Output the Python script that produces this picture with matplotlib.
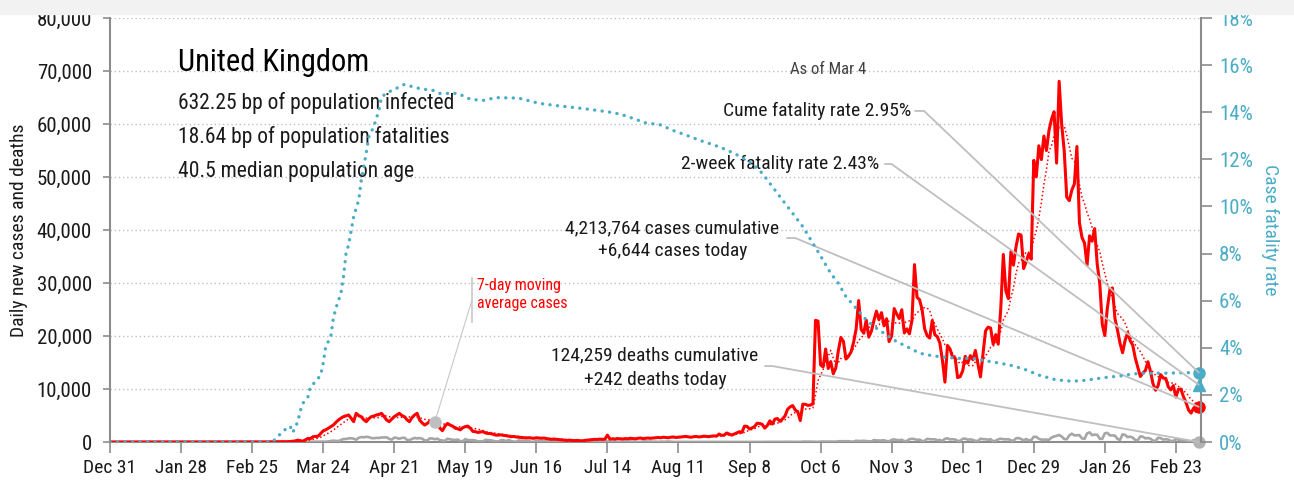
import matplotlib
matplotlib.use("Agg")
import matplotlib.pyplot as plt
from matplotlib.patches import Rectangle
import pandas as pd

plt.rcParams['font.family'] = ['Roboto Condensed', 'DejaVu Sans']
plt.rcParams['font.stretch'] = 'condensed'

# daily new cases, Dec 31 2019 .. Mar 4 2021
cases = (
    [0]
    + [0] * 30 + [2]                                                   # Jan 2020
    + [0, 0, 0, 0, 0, 1, 0, 0, 0, 4, 0, 0, 0, 1, 0, 0, 0, 0, 0, 0,
       0, 0, 0, 4, 0, 0, 2, 5, 3]                                      # Feb
    + [12, 4, 11, 34, 30, 48, 43, 67, 48, 54, 87, 134, 208, 342, 251, 152, 407, 676, 643, 1000,
       1035, 1100, 1600, 2100, 2300, 2580, 2900, 3200, 3700, 4150, 4500]  # Mar
    + [4780, 4950, 5100, 4500, 3840, 5410, 5000, 4780, 4200, 3840, 4400, 4780, 4900, 5100, 5200,
       5410, 4800, 4150, 3840, 4300, 4780, 5100, 5410, 5000, 4780, 4200, 3840, 4600, 5100, 5410]  # Apr
    + [4150, 3600, 3200, 3500, 3900, 4100, 4150, 3600, 2600, 2140, 3000, 3500, 3200, 3000, 2600,
       2500, 2300, 2700, 2900, 3000, 2600, 2000, 1950, 1800, 1900, 1950, 1700, 1600, 1600, 1450, 1300]  # May
    + [1300, 1350, 1250, 1200, 1100, 1000, 1050, 950, 900, 850, 800, 760, 800, 750, 700,
       800, 750, 700, 750, 650, 550, 500, 550, 500, 450, 400, 350, 300, 350, 300]  # Jun
    + [250, 300, 250, 200, 300, 350, 400, 450, 500, 480, 550, 500, 520, 1300, 550, 600,
       550, 650, 600, 550, 650, 600, 700, 650, 600, 700, 750, 650, 700, 750, 700]  # Jul
    + [750, 800, 850, 800, 900, 850, 800, 900, 950, 850, 900, 950, 1000, 1050, 950, 900,
       1000, 1050, 950, 1000, 1100, 1050, 1000, 1100, 1150, 1100, 1500, 1250, 1300, 1700, 1500]  # Aug
    + [1295, 1508, 1735, 1940, 1813, 2988, 2948, 2460, 2659, 2919, 3539, 3497, 3330, 2621, 3105,
       3991, 3395, 4322, 4422, 3899, 4368, 4926, 6178, 6634, 6874, 6042, 5693, 4044, 7143, 7108]  # Sep
    + [6914, 6968, 7200, 22961, 22800, 14542, 14162, 17540, 13864, 15166, 12872, 13972, 17234, 19724,
       18980, 15650, 16171, 16982, 18804, 21331, 26688, 21242, 20530, 23012, 19790, 20890, 22885,
       24701, 23065, 24405, 21915]                                     # Oct
    + [23254, 18950, 20018, 25177, 24141, 23287, 24957, 20572, 21350, 20412, 22950, 33470, 27301,
       26860, 24962, 21363, 20051, 19609, 22915, 20252, 19875, 18662, 15450, 11299, 18213, 17555,
       16022, 15871, 12155, 12330]                                     # Nov
    + [13430, 16170, 14879, 16298, 15539, 17272, 14718, 12282, 16578, 20964, 21672, 21502, 18447,
       20263, 18450, 25161, 35383, 28507, 27052, 35928, 33364, 36804, 39237, 39036, 32725, 34000,
       35500, 34500, 53135, 50023, 55892]                              # Dec
    + [53285, 57725, 54990, 58784, 60916, 62322, 52618, 68053, 59937, 54940, 46169, 45533, 47525,
       48682, 55761, 41346, 38598, 37535, 33355, 38905, 37892, 40261, 33552, 30004, 22195, 20089,
       25308, 28680, 29079, 23275, 21088]                              # Jan 2021
    + [18607, 16840, 19202, 20634, 19114, 18262, 15845, 14104, 12364, 13013, 13494, 15144, 13308,
       10972, 9765, 10625, 12718, 12057, 12027, 10406, 9834, 10641, 8489, 9938, 9985, 8523, 7434, 6035]  # Feb
    + [5455, 6391, 5766, 6644]                                         # Mar
)

deaths = (
    [0] * 61                                                           # to Feb 29 2020
    + [0, 0, 0, 0, 1, 1, 0, 1, 1, 0, 2, 1, 1, 10, 14, 20, 16, 33, 40, 33, 56, 48, 54, 87, 41,
       115, 181, 260, 209, 180, 381]
    + [563, 569, 684, 708, 621, 439, 786, 938, 881, 980, 917, 737, 717, 778, 761, 861, 847, 888,
       596, 449, 828, 763, 616, 768, 813, 413, 360, 586, 765, 674]
    + [739, 621, 315, 288, 693, 649, 539, 626, 346, 268, 210, 627, 494, 428, 384, 468, 170, 160,
       545, 363, 338, 351, 282, 118, 121, 134, 412, 377, 324, 215, 113]
    + [111, 324, 359, 176, 357, 204, 77, 55, 286, 245, 202, 181, 181, 36, 38, 233, 184, 135, 173,
       128, 43, 15, 280, 154, 149, 186, 100, 36, 25, 155]
    + [176, 137, 89, 67, 22, 16, 155, 126, 85, 48, 148, 21, 11, 138, 85, 66, 114, 40, 21, 11,
       110, 79, 123, 40, 64, 25, 9, 110, 119, 79, 101]
    + [38, 74, 8, 65, 65, 49, 98, 55, 8, 3, 20, 18, 20, 6, 11, 3, 3, 12, 16, 6, 2, 18, 3, 3, 16,
       16, 12, 9, 6, 1, 2]
    + [3, 3, 10, 12, 6, 2, 3, 2, 8, 14, 6, 9, 5, 9, 27, 20, 21, 27, 27, 18, 11, 37, 37, 40, 34,
       17, 17, 13, 71, 71]
    + [59, 66, 49, 33, 19, 76, 70, 77, 87, 81, 65, 50, 143, 137, 138, 136, 150, 67, 80, 241, 191,
       189, 224, 174, 151, 102, 367, 310, 280, 274, 326]
    + [162, 136, 397, 492, 378, 355, 413, 156, 194, 532, 595, 563, 376, 462, 168, 213, 598, 529,
       501, 511, 341, 398, 206, 608, 696, 498, 521, 479, 215, 205]
    + [603, 648, 414, 504, 397, 231, 189, 616, 533, 516, 424, 519, 144, 232, 506, 612, 532, 489,
       534, 326, 215, 691, 744, 570, 300, 570, 316, 357, 981, 964, 613]
    + [445, 445, 454, 407, 830, 1041, 1162, 1325, 1035, 563, 529, 1243, 1564, 1248, 1280, 1295,
       671, 599, 1610, 1820, 1290, 1401, 1348, 610, 592, 1631, 1725, 1239, 1245, 1200, 587]
    + [406, 1449, 1322, 915, 1014, 828, 373, 333, 1052, 1001, 678, 758, 621, 258, 230, 799, 738,
       454, 533, 445, 215, 178, 548, 442, 323, 345, 290, 144]
    + [104, 343, 315, 242]
)

# cumulative case fatality rate (%)
cfr_dates = ['2019-12-31', '2020-03-04', '2020-03-06', '2020-03-08', '2020-03-10', '2020-03-11',
             '2020-03-12', '2020-03-14', '2020-03-15', '2020-03-16', '2020-03-18', '2020-03-19',
             '2020-03-21', '2020-03-23', '2020-03-24', '2020-03-25', '2020-03-27', '2020-03-28',
             '2020-03-29', '2020-03-31', '2020-04-01', '2020-04-02', '2020-04-03', '2020-04-05',
             '2020-04-07', '2020-04-08', '2020-04-10', '2020-04-11', '2020-04-13', '2020-04-15',
             '2020-04-16', '2020-04-19', '2020-04-21', '2020-04-25', '2020-04-29', '2020-05-02',
             '2020-05-06', '2020-05-09', '2020-05-16', '2020-05-21', '2020-05-26', '2020-05-31',
             '2020-06-09', '2020-06-13', '2020-06-17', '2020-06-23', '2020-06-30', '2020-07-07',
             '2020-07-14', '2020-07-19', '2020-07-24', '2020-07-29', '2020-08-04', '2020-08-09',
             '2020-08-14', '2020-08-19', '2020-08-25', '2020-08-30', '2020-09-04', '2020-09-09',
             '2020-09-13', '2020-09-17', '2020-09-21', '2020-09-25', '2020-09-29', '2020-10-03',
             '2020-10-06', '2020-10-10', '2020-10-13', '2020-10-16', '2020-10-20', '2020-10-24',
             '2020-10-28', '2020-11-01', '2020-11-05', '2020-11-09', '2020-11-14', '2020-11-19',
             '2020-11-25', '2020-11-30', '2020-12-05', '2020-12-10', '2020-12-16', '2020-12-21',
             '2020-12-26', '2020-12-31', '2021-01-06', '2021-01-11', '2021-01-16', '2021-01-21',
             '2021-01-27', '2021-02-01', '2021-02-06', '2021-02-11', '2021-02-17', '2021-02-22',
             '2021-02-27', '2021-03-04']
cfr_values = [0, 0, 0.22, 0.44, 0.61, 0.67,
              0.40, 0.86, 1.33, 1.64, 1.92, 2.35,
              2.56, 2.84, 3.34, 4.05, 4.47, 5.25,
              5.68, 6.31, 7.02, 8.0, 8.36, 9.56,
              10.27, 11.1, 12.3, 12.96, 13.4, 14.1,
              14.66, 14.87, 14.97, 15.18, 15.06, 14.98,
              14.94, 14.8, 14.8, 14.55, 14.5, 14.62,
              14.6, 14.49, 14.38, 14.29, 14.21, 14.12,
              14.02, 13.92, 13.74, 13.55, 13.46, 13.22,
              13.03, 12.82, 12.61, 12.4, 12.14, 11.83,
              11.41, 10.84, 10.27, 9.71, 9.14, 8.43,
              7.9, 7.16, 6.74, 6.17, 5.68, 5.18,
              4.83, 4.54, 4.26, 4.05, 3.77, 3.66,
              3.59, 3.55, 3.55, 3.45, 3.34, 3.23,
              3.06, 2.84, 2.66, 2.59, 2.59, 2.66,
              2.75, 2.80, 2.89, 2.92, 2.92, 2.93,
              2.94, 2.95]
two_week_rate = 2.43

tick_dates = pd.date_range('2019-12-31', periods=16, freq='28D')
summary_lines = ['632.25 bp of population infected',
                 '18.64 bp of population fatalities',
                 '40.5 median population age']

RED = '#ff0000'
TEAL = '#4bacc6'
GRAY = '#a6a6a6'
LEAD = '#bfbfbf'
AXC = '#8c8c8c'

assert len(cases) == len(deaths) == 430
assert len(cfr_dates) == len(cfr_values)
dates = pd.date_range('2019-12-31', periods=len(cases))
cases_s = pd.Series(cases, index=dates)
ma = cases_s.rolling(7, min_periods=1).mean()
cfr_idx = pd.to_datetime(cfr_dates)
last = dates[-1]

fig = plt.figure(figsize=(12.94, 4.82), dpi=100)
fig.patches.append(Rectangle((0, 1 - 14 / 482), 1, 14 / 482, transform=fig.transFigure,
                             color='#f2f2f2', zorder=0))
ax = fig.add_axes([110 / 1294, 40 / 482, 1091 / 1294, 424 / 482])
ax2 = ax.twinx()

ax.plot(dates, deaths, color=GRAY, lw=1.9, zorder=3)
ax.plot(dates, cases, color=RED, lw=2.2, zorder=4)
ax.plot(dates, ma, color=RED, lw=1.1, ls=(0, (1, 1.6)), zorder=4)
ax2.plot(cfr_idx, cfr_values, color=TEAL, lw=2.4, dashes=(0.05, 2.2),
         dash_capstyle='round', zorder=3)

# end markers
ax.plot([last], [cases[-1]], 'o', color=RED, ms=8, clip_on=False, zorder=6)
ax.plot([last], [0], 'o', color='#b3b3b3', ms=8, clip_on=False, zorder=6)
ax2.plot([last], [cfr_values[-1]], 'o', color=TEAL, ms=8, clip_on=False, zorder=6)
ax2.plot([last], [two_week_rate], '^', color=TEAL, ms=8, clip_on=False, zorder=6)

# 7-day moving average callout
ma_day = pd.Timestamp('2020-05-07')
ax.plot([ma_day], [ma[ma_day]], 'o', color='#bfbfbf', ms=8, zorder=6)
ax.annotate('', xy=(ma_day, ma[ma_day]), xytext=(0.3318, 0.335), textcoords='axes fraction',
            arrowprops=dict(arrowstyle='-', color='#c8c8c8', lw=0.8, shrinkA=0, shrinkB=0))
ax.plot([0.3318, 0.3318], [0.283, 0.387], color='#c8c8c8', lw=1.2, transform=ax.transAxes)
ax.text(0.3364, 0.349, '7-day moving\naverage cases', color=RED, fontsize=11.5,
        transform=ax.transAxes, ha='left', va='center', linespacing=1.25)


def leader(axis, target, start, angle):
    axis.annotate('', xy=target, xycoords='data', xytext=start, textcoords='axes fraction',
                  arrowprops=dict(arrowstyle='-', color=LEAD, lw=1.3, shrinkA=0, shrinkB=0,
                                  connectionstyle='angle,angleA=0,angleB=%g,rad=0' % angle),
                  zorder=7)


leader(ax2, (last, cfr_values[-1]), (0.7379, 0.7807), -43.6)
leader(ax2, (last, two_week_rate), (0.7103, 0.6557), -35.7)
leader(ax, (last, cases[-1]), (0.6205, 0.4811), -22.7)
leader(ax, (last, 0), (0.6004, 0.1792), -10.1)

tx = dict(transform=ax.transAxes, fontsize=14, color='#1a1a1a', va='center')
ax.text(0.7342, 0.7807, 'Cume fatality rate %.2f%%' % cfr_values[-1], ha='right', **tx)
ax.text(0.7049, 0.6557, '2-week fatality rate %.2f%%' % two_week_rate, ha='right', **tx)
ax.text(0.5151, 0.5047, '4,213,764 cases cumulative', ha='center', **tx)
ax.text(0.5160, 0.4505, '+{:,} cases today'.format(cases[-1]), ha='center', **tx)
ax.text(0.4995, 0.2050, '124,259 deaths cumulative', ha='center', **tx)
ax.text(0.4995, 0.1460, '+{:,} deaths today'.format(deaths[-1]), ha='center', **tx)
ax.text(0.6581, 0.8774, 'As of Mar 4', ha='center', transform=ax.transAxes, fontsize=12,
        color='#404040', va='center')

ax.text(0.0623, 0.8939, 'United Kingdom', transform=ax.transAxes, fontsize=22,
        va='center', ha='left', color='#000000')
for i, line in enumerate(summary_lines):
    ax.text(0.0623, 0.7995 - i * 0.0813, line, transform=ax.transAxes, fontsize=15.5,
            va='center', ha='left', color='#1a1a1a')

# axes
ax.set_ylim(0, 80000)
ax.set_yticks(range(0, 80001, 10000))
ax.set_yticklabels(['{:,}'.format(v) for v in range(0, 80001, 10000)])
ax.set_xlim(pd.Timestamp('2019-12-31'), last + pd.Timedelta(days=0.9))
ax.set_xticks(tick_dates)
ax.set_xticklabels(['%s %d' % (d.strftime('%b'), d.day) for d in tick_dates])
ax2.set_ylim(0, 18)
ax2.set_yticks(range(0, 19, 2))
ax2.set_yticklabels(['%d%%' % v for v in range(0, 19, 2)])

ax.yaxis.grid(True, color='#c0c0c0', ls=(0, (1, 2)), lw=1)
ax.set_axisbelow(True)
for s in ['top', 'right']:
    ax.spines[s].set_visible(False)
for s in ['top', 'left', 'bottom']:
    ax2.spines[s].set_visible(False)
for sp in [ax.spines['left'], ax.spines['bottom'], ax2.spines['right']]:
    sp.set_color(AXC)
    sp.set_linewidth(1.5)

ax.tick_params(axis='y', length=5, width=1.2, color=AXC, labelsize=15, labelcolor='#1a1a1a', pad=8)
ax.tick_params(axis='x', length=8, width=1.2, color=AXC, labelsize=14, labelcolor='#1a1a1a', pad=4)
ax2.tick_params(axis='y', length=8, width=1.2, color=AXC, labelsize=15, labelcolor=TEAL, pad=5)

ax.set_ylabel('Daily new cases and deaths', fontsize=14, color='#1a1a1a')
ax.yaxis.set_label_coords(-0.0751, 0.5)
ax2.set_ylabel('Case fatality rate', fontsize=14, color=TEAL, rotation=270, va='center')
ax2.yaxis.set_label_coords(1.063, 0.5)

fig.savefig('out.png', dpi=100)
